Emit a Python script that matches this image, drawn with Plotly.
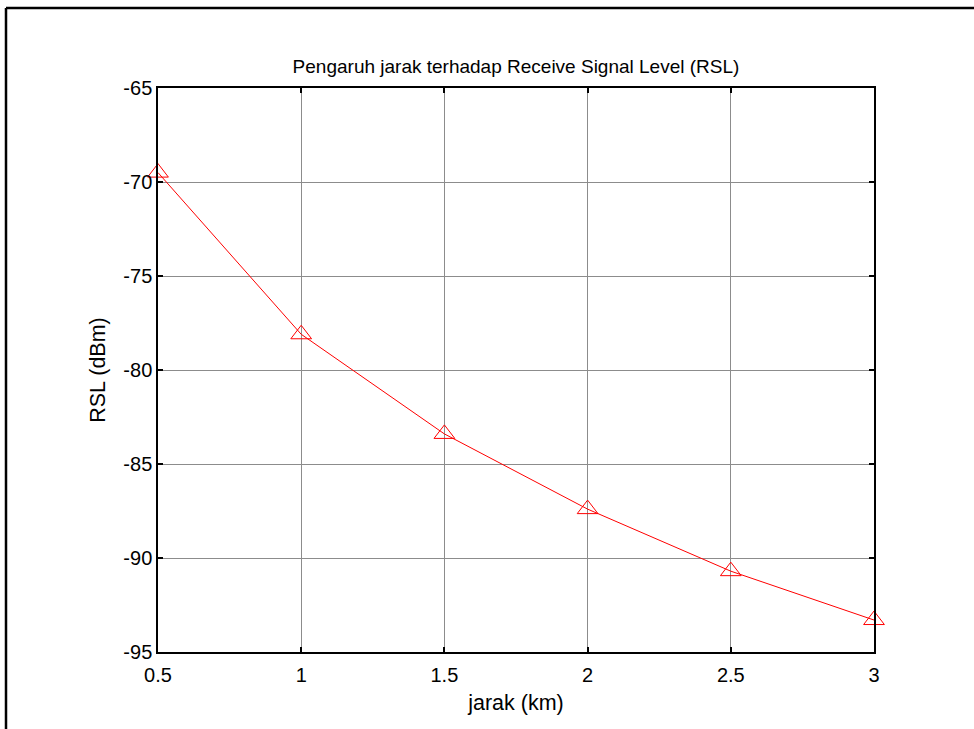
import plotly.graph_objects as go

jarak = [0.5, 1, 1.5, 2, 2.5, 3]
rsl = [-69.5, -78.1, -83.4, -87.4, -90.7, -93.3]
x_ticks = [0.5, 1, 1.5, 2, 2.5, 3]
x_ticklabels = ["0.5", "1", "1.5", "2", "2.5", "3"]
y_ticks = [-65, -70, -75, -80, -85, -90, -95]
y_ticklabels = ["-65", "-70", "-75", "-80", "-85", "-90", "-95"]

W, H = 974, 729
L, R, T, B = 158, 100, 88, 77
pw, ph = W - L - R, H - T - B

def px(p):
    return (p - L) / pw

def py(p):
    return 1 - (p - T) / ph

font = "Liberation Sans, Arial, sans-serif"

fig = go.Figure()
fig.add_trace(go.Scatter(
    x=jarak, y=rsl, mode="lines+markers",
    line=dict(color="#ff0000", width=1),
    marker=dict(symbol="triangle-up-open", size=18, color="#ff0000",
                line=dict(width=1, color="#ff0000")),
    showlegend=False, cliponaxis=False,
))

axis_common = dict(
    showline=True, linecolor="black", linewidth=1.5, mirror="ticks",
    ticks="inside", ticklen=5, tickcolor="black", tickwidth=1.5,
    showgrid=True, gridcolor="#8c8c8c", gridwidth=1,
    zeroline=False, tickfont=dict(family=font, size=20, color="black"),
)

fig.update_xaxes(range=[0.5, 3], tickvals=x_ticks, ticktext=x_ticklabels,
                 ticklabelstandoff=4,
                 title=dict(text="jarak (km)", font=dict(family=font, size=21.5, color="black"), standoff=10),
                 **axis_common)
fig.update_yaxes(range=[-95, -65], tickvals=y_ticks, ticktext=y_ticklabels,
                 title=dict(text="RSL (dBm)", font=dict(family=font, size=21.5, color="black"), standoff=12),
                 **axis_common)

fig.update_layout(
    width=W, height=H,
    margin=dict(l=L, r=R, t=T, b=B, pad=0),
    paper_bgcolor="white", plot_bgcolor="white",
    title=dict(text="Pengaruh jarak terhadap Receive Signal Level (RSL)",
               font=dict(family=font, size=19, color="black"),
               x=0.5, xref="paper", xanchor="center",
               y=1 - 66 / H, yanchor="middle"),
    shapes=[
        dict(type="line", xref="paper", yref="paper",
             x0=px(6), x1=px(W + 5), y0=py(8), y1=py(8),
             line=dict(color="black", width=2.5)),
        dict(type="line", xref="paper", yref="paper",
             x0=px(6), x1=px(6), y0=py(8), y1=py(H + 5),
             line=dict(color="black", width=2.5)),
    ],
)

fig.write_html("out.html")
